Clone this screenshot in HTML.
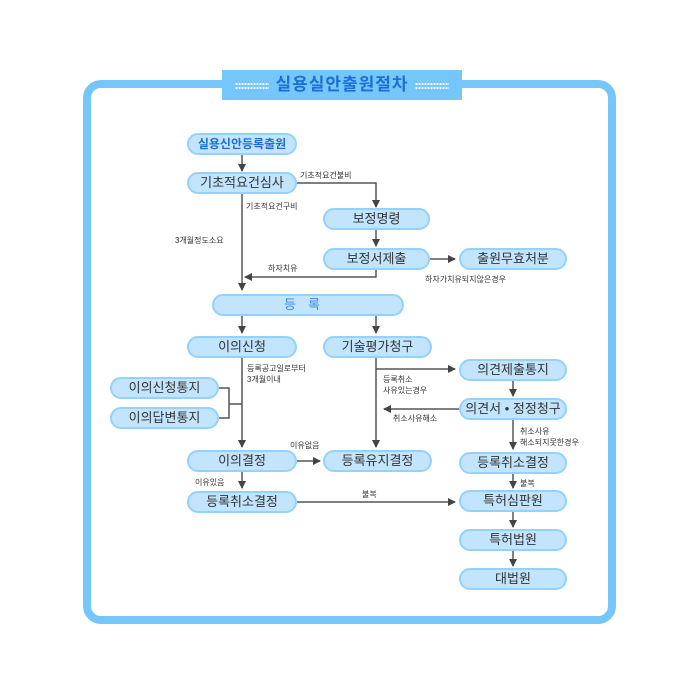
<!DOCTYPE html>
<html><head><meta charset="utf-8"><style>
body{margin:0;width:698px;height:700px;background:#fff;position:relative;overflow:hidden;font-family:"Liberation Sans","Noto Sans CJK KR",sans-serif}
.frame{position:absolute;left:83px;top:80px;width:517px;height:528px;border:8px solid #74c6fb;border-radius:18px}
.title{position:absolute;left:222px;top:70px;width:240px;height:30px;background:#74c6fb;color:#1d6fd6;font-weight:bold;font-size:17px;text-align:center;line-height:30px;letter-spacing:1px;white-space:nowrap}
.dots{display:inline-block;width:34px;height:8px;vertical-align:middle;margin:0 6px;background-image:radial-gradient(circle,#fff 1px,transparent 1.2px);background-size:3px 4px}
.n{position:absolute;box-sizing:border-box;background:#c3e4fd;border:2px solid #93d2fb;border-radius:11px;height:22px;line-height:18px;text-align:center;font-size:13px;color:#333}
.l{position:absolute;font-size:8px;color:#333;line-height:11px;white-space:nowrap}
svg{position:absolute;left:0;top:0}
</style></head><body>
<div class="frame"></div>
<div class="title"><span class="dots"></span>실용실안출원절차<span class="dots"></span></div>
<svg width="698" height="700"><defs><marker id="a" markerWidth="8" markerHeight="8" refX="7" refY="4" orient="auto" markerUnits="userSpaceOnUse"><path d="M0,0L8,4L0,8z" fill="#444"/></marker></defs>
<g stroke="#555" stroke-width="1.5" fill="none">
<path d="M242 155V171" marker-end="url(#a)"/>
<path d="M297 183H376V207" marker-end="url(#a)"/>
<path d="M242 194V290" marker-end="url(#a)"/>
<path d="M376 230V246" marker-end="url(#a)"/>
<path d="M430 259H455" marker-end="url(#a)"/>
<path d="M376 270V277H245" marker-end="url(#a)"/>
<path d="M242 316V333" marker-end="url(#a)"/>
<path d="M376 316V333" marker-end="url(#a)"/>
<path d="M242 358V447" marker-end="url(#a)"/>
<path d="M219 388H229V418H219M229 404H242"/>
<path d="M376 358V447" marker-end="url(#a)"/>
<path d="M376 369H455" marker-end="url(#a)"/>
<path d="M459 409H384" marker-end="url(#a)"/>
<path d="M513 381V396" marker-end="url(#a)"/>
<path d="M513 420V449" marker-end="url(#a)"/>
<path d="M297 461H320" marker-end="url(#a)"/>
<path d="M242 472V488" marker-end="url(#a)"/>
<path d="M297 502H455" marker-end="url(#a)"/>
<path d="M513 474V488" marker-end="url(#a)"/>
<path d="M513 512V527" marker-end="url(#a)"/>
<path d="M513 551V566" marker-end="url(#a)"/>
</g></svg>
<div class="n" style="left:187px;top:133px;width:110px;color:#1d6fd6;font-weight:bold;font-size:12px">실용신안등록출원</div>
<div class="n" style="left:187px;top:172px;width:110px">기초적요건심사</div>
<div class="n" style="left:323px;top:208px;width:107px">보정명령</div>
<div class="n" style="left:323px;top:248px;width:107px">보정서제출</div>
<div class="n" style="left:459px;top:248px;width:108px">출원무효처분</div>
<div class="n" style="left:212px;top:294px;width:192px;color:#3a8ad8;letter-spacing:12px">등록</div>
<div class="n" style="left:187px;top:336px;width:110px">이의신청</div>
<div class="n" style="left:323px;top:336px;width:109px">기술평가청구</div>
<div class="n" style="left:459px;top:359px;width:108px">의견제출통지</div>
<div class="n" style="left:110px;top:377px;width:109px">이의신청통지</div>
<div class="n" style="left:110px;top:407px;width:109px">이의답변통지</div>
<div class="n" style="left:459px;top:398px;width:108px">의견서 • 정정청구</div>
<div class="n" style="left:187px;top:450px;width:110px">이의결정</div>
<div class="n" style="left:323px;top:450px;width:109px">등록유지결정</div>
<div class="n" style="left:459px;top:452px;width:108px">등록취소결정</div>
<div class="n" style="left:187px;top:491px;width:110px">등록취소결정</div>
<div class="n" style="left:459px;top:490px;width:108px">특허심판원</div>
<div class="n" style="left:459px;top:529px;width:108px">특허법원</div>
<div class="n" style="left:459px;top:568px;width:108px">대법원</div>
<div class="l" style="left:300px;top:170px">기초적요건불비</div>
<div class="l" style="left:246px;top:201px">기초적요건구비</div>
<div class="l" style="left:175px;top:235px">3개월정도소요</div>
<div class="l" style="left:268px;top:263px">하자치유</div>
<div class="l" style="left:425px;top:274px">하자가치유되지않은경우</div>
<div class="l" style="left:247px;top:363px">등록공고일로부터<br>3개월이내</div>
<div class="l" style="left:383px;top:374px">등록취소<br>사유있는경우</div>
<div class="l" style="left:393px;top:413px">취소사유해소</div>
<div class="l" style="left:520px;top:426px">취소사유<br>해소되지못한경우</div>
<div class="l" style="left:290px;top:440px">이유없음</div>
<div class="l" style="left:195px;top:477px">이유있음</div>
<div class="l" style="left:362px;top:489px">불복</div>
<div class="l" style="left:520px;top:478px">불복</div>
</body></html>
